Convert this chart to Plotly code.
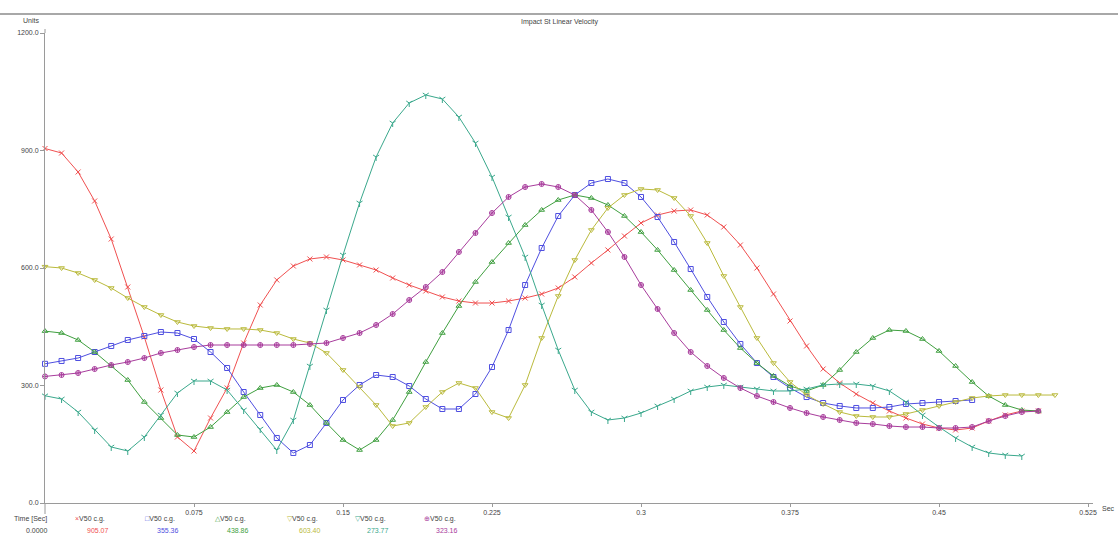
import plotly.graph_objects as go

# Sampling step of the exported time history (seconds)
SAMPLE_STEP = 1 / 120

# Series values (Units), one value per sample
v_red = [905.07, 893.6, 845.1, 771.1, 674.0, 551.5, 423.8, 288.5, 168.5, 132.8,
         217.0, 293.6, 408.5, 505.5, 569.4, 605.1, 623.0, 628.1, 620.4, 607.7,
         594.9, 574.5, 556.6, 541.3, 526.0, 515.7, 510.6, 510.6, 515.7, 523.4,
         533.6, 548.9, 577.0, 612.8, 646.0, 681.7, 714.9, 735.3, 745.5, 748.1,
         735.3, 704.7, 658.7, 600.0, 533.6, 464.7, 400.9, 342.1, 306.4, 278.3,
         255.3, 234.9, 217.0, 201.7, 191.5, 186.4, 191.5, 209.4, 224.7, 234.9,
         234.9]

v_blue = [355.36, 362.6, 370.2, 385.5, 400.9, 416.2, 426.4, 436.6, 434.0, 418.7,
          385.5, 344.7, 283.4, 224.7, 166.0, 127.7, 148.1, 204.3, 263.0, 301.3,
          326.8, 321.7, 298.7, 265.5, 240.0, 240.0, 278.3, 347.2, 441.7, 556.6,
          651.1, 732.8, 786.4, 817.0, 827.2, 817.0, 781.3, 730.2, 666.4, 597.4,
          526.0, 462.1, 406.0, 357.4, 321.7, 293.6, 270.6, 255.3, 247.7, 242.6,
          242.6, 245.1, 252.8, 255.3, 257.9, 260.4, 263.0]

v_green = [438.86, 434.0, 416.2, 385.5, 349.8, 314.0, 257.9, 217.0, 173.6, 168.5,
           194.0, 232.3, 270.6, 293.6, 301.3, 283.4, 250.2, 204.3, 160.9, 135.3,
           160.9, 211.9, 283.4, 360.0, 434.0, 503.0, 564.3, 615.3, 663.8, 709.8,
           748.1, 773.6, 786.4, 778.7, 760.9, 732.8, 691.9, 646.0, 594.9, 543.8,
           492.8, 441.7, 395.7, 357.4, 324.3, 298.7, 286.0, 301.3, 339.6, 385.5,
           421.3, 441.7, 439.2, 418.7, 388.1, 349.8, 308.9, 273.2, 250.2, 237.4,
           234.9]

v_olive = [603.40, 600.0, 587.2, 569.4, 548.9, 523.4, 500.4, 480.0, 462.1, 451.9,
           446.8, 444.3, 444.3, 441.7, 434.0, 418.7, 408.5, 383.0, 339.6, 296.2,
           250.2, 196.6, 204.3, 245.1, 283.4, 306.4, 293.6, 232.3, 217.0, 301.3,
           421.3, 528.5, 620.4, 697.0, 753.2, 786.4, 801.7, 799.2, 778.7, 732.8,
           663.8, 579.6, 500.4, 421.3, 357.4, 308.9, 275.7, 252.8, 232.3, 222.1,
           219.6, 219.6, 227.2, 237.4, 247.7, 257.9, 268.1, 273.2, 275.7, 275.7,
           275.7, 275.7]

v_teal = [273.77, 265.5, 232.3, 186.4, 143.0, 132.8, 168.5, 224.7, 280.9, 311.5,
          311.5, 288.5, 237.4, 188.9, 135.3, 211.9, 349.8, 492.8, 633.2, 766.0,
          883.4, 970.2, 1021.3, 1041.7, 1031.5, 985.5, 919.2, 832.3, 730.2, 628.1,
          505.5, 390.6, 288.5, 232.3, 211.9, 217.0, 229.8, 247.7, 265.5, 286.0,
          296.2, 301.3, 296.2, 291.1, 286.0, 286.0, 291.1, 301.3, 303.8, 303.8,
          298.7, 286.0, 257.9, 224.7, 194.0, 166.0, 143.0, 127.7, 122.6, 120.0]

v_purple = [323.16, 326.8, 331.9, 342.1, 352.3, 360.0, 370.2, 383.0, 390.6, 398.3,
            403.4, 403.4, 403.4, 403.4, 403.4, 403.4, 406.0, 408.5, 421.3, 434.0,
            454.5, 482.5, 518.3, 551.5, 589.8, 640.9, 689.4, 740.4, 781.3, 806.8,
            814.5, 806.8, 786.4, 748.1, 691.9, 628.1, 556.6, 495.3, 434.0, 385.5,
            349.8, 319.2, 293.6, 273.2, 257.9, 242.6, 229.8, 219.6, 211.9, 204.3,
            201.7, 196.6, 194.0, 194.0, 191.5, 191.5, 194.0, 209.4, 222.1, 232.3,
            234.9]

series_names = ["V50 c.g."] * 6
x_ticks = [0.075, 0.15, 0.225, 0.3, 0.375, 0.45, 0.525]
x_tick_text = ["0.075", "0.15", "0.225", "0.3", "0.375", "0.45", "0.525"]
y_ticks = [0, 300, 600, 900, 1200]

# (values, line colour, marker symbol, legend glyph)
styles = [
    (v_red, "#f05050", "x-thin-open", "×"),
    (v_blue, "#4f4fe0", "square-open", "□"),
    (v_green, "#3f9f3f", "triangle-up-open", "△"),
    (v_olive, "#baba3c", "triangle-down-open", "▽"),
    (v_teal, "#3aa88c", "y-down-open", "▽"),
    (v_purple, "#a83c9c", "circle-cross-open", "⊕"),
]

fig = go.Figure()
for (vals, color, symbol, _), name in zip(styles, series_names):
    times = [i * SAMPLE_STEP for i in range(len(vals))]
    fig.add_trace(go.Scatter(
        x=times, y=vals, name=name, mode="lines+markers",
        line=dict(color=color, width=1),
        marker=dict(symbol=symbol, size=5, color=color, line=dict(width=1, color=color)),
        cliponaxis=False, showlegend=False,
    ))

# plot area geometry in pixels, used to place the free text
W, H = 1118, 538
L, R, T, B = 45, 25, 33, 35
PW, PH = W - L - R, H - T - B


def px(xp):
    return (xp - L) / PW


def py(yp):
    return (H - B - yp) / PH


FONT = "Liberation Sans, Arial, sans-serif"
TXT = "#444444"
AX = "#9a9a9a"


def note(text, xp, yp, anchor="left", color=TXT):
    return dict(text=text, x=px(xp), y=py(yp), xref="paper", yref="paper",
                showarrow=False, xanchor=anchor, yanchor="middle",
                font=dict(size=7, color=color))


annotations = [
    note("Impact St Linear Velocity", 560, 22, "center"),
    note("Units", 31, 21, "center"),
    note("Sec", 1100, 508),
    note("Time [Sec]", 12, 519),
    note("0.0000", 50, 530, "right"),
]

entry_left = [73, 143, 213, 285, 353, 422]
for (vals, color, _, glyph), name, xl in zip(styles, series_names, entry_left):
    annotations.append(note(f'<span style="color:{color}">{glyph}</span>{name}', xl, 519))
    annotations.append(note(f"{vals[0]:.2f}", xl + 38, 530, "right", color))

shapes = [
    # frame line across the top of the page
    dict(type="line", xref="paper", yref="paper", x0=px(0), x1=px(W), y0=py(14), y1=py(14),
         line=dict(color="#a8a8a8", width=2)),
    # value axis continues a little below the time axis and above the top tick
    dict(type="line", xref="paper", yref="paper", x0=0, x1=0, y0=0, y1=py(514),
         line=dict(color=AX, width=1)),
    dict(type="line", xref="paper", yref="paper", x0=0, x1=0, y0=1, y1=py(29),
         line=dict(color=AX, width=1)),
]

fig.update_layout(
    width=W, height=H,
    margin=dict(l=L, r=R, t=T, b=B),
    paper_bgcolor="white", plot_bgcolor="white",
    font=dict(family=FONT, size=7, color=TXT),
    showlegend=False,
    annotations=annotations,
    shapes=shapes,
    xaxis=dict(range=[0, 0.5275], tickvals=x_ticks, ticktext=x_tick_text,
               showline=True, linecolor=AX, linewidth=1, ticks="outside", ticklen=3,
               tickcolor=AX, showgrid=False, zeroline=False,
               tickfont=dict(size=7, color=TXT)),
    yaxis=dict(range=[0, 1200], tickvals=y_ticks, ticktext=[f"{v:.1f}" for v in y_ticks],
               showline=True, linecolor=AX, linewidth=1, ticks="outside", ticklen=4,
               tickcolor=AX, showgrid=False, zeroline=False,
               tickfont=dict(size=7, color=TXT)),
)

fig.write_html("out.html")
